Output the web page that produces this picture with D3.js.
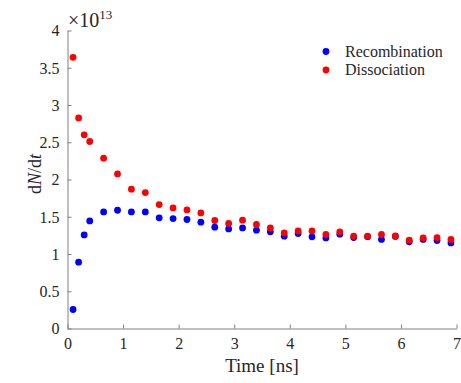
<!DOCTYPE html>
<html>
<head>
<meta charset="utf-8">
<script src="https://cdn.jsdelivr.net/npm/d3@7"></script>
<style>
  body { margin: 0; background: #fff; }
  svg text { font-family: "Liberation Serif", "Times New Roman", serif; fill: #262626; }
</style>
</head>
<body>
<svg id="chart" width="461" height="383"></svg>
<script>
// time points [ns]
var times = [0.1, 0.2, 0.3, 0.4, 0.65, 0.9, 1.15, 1.4, 1.65, 1.9, 2.15, 2.4, 2.65, 2.9, 3.15,
	3.4, 3.65, 3.9, 4.15, 4.4, 4.65, 4.9, 5.15, 5.4, 5.65, 5.9, 6.15, 6.4, 6.65, 6.9];

// values in units of 1e13
var recombination = [0.255, 0.89, 1.256, 1.444, 1.565, 1.587, 1.565, 1.565, 1.485, 1.476, 1.463, 1.427, 1.36, 1.337, 1.35,
	1.32, 1.297, 1.239, 1.275, 1.23, 1.216, 1.266, 1.221, 1.232, 1.195, 1.236, 1.163, 1.195, 1.181, 1.149];
var dissociation = [3.64, 2.827, 2.599, 2.51, 2.286, 2.075, 1.87, 1.825, 1.664, 1.619, 1.592, 1.552, 1.45, 1.41, 1.454,
	1.396, 1.35, 1.283, 1.31, 1.31, 1.262, 1.297, 1.239, 1.239, 1.262, 1.243, 1.185, 1.216, 1.221, 1.195];

var xTicks = [0, 1, 2, 3, 4, 5, 6, 7];
var yTicks = [0, 0.5, 1, 1.5, 2, 2.5, 3, 3.5, 4];

var seriesNames = ["Recombination", "Dissociation"];
var seriesColors = ["#0000ff", "#ff0000"];

var FONT = '"Liberation Serif", "Times New Roman", serif';
var AXIS_COLOR = "#808080";

var svg = d3.select("#chart");

var x = d3.scaleLinear().domain([0, 7]).range([67.5, 456.5]);
var y = d3.scaleLinear().domain([0, 4]).range([328.5, 30.5]);

var fmt = function(d) { return String(d); };

// x axis
var xAxis = svg.append("g")
	.attr("transform", "translate(0," + y(0) + ")")
	.call(d3.axisBottom(x).tickValues(xTicks).tickFormat(fmt).tickSizeInner(-4).tickSizeOuter(0).tickPadding(8));

// y axis
var yAxis = svg.append("g")
	.attr("transform", "translate(" + x(0) + ",0)")
	.call(d3.axisLeft(y).tickValues(yTicks).tickFormat(fmt).tickSizeInner(-4).tickSizeOuter(0).tickPadding(8));

[xAxis, yAxis].forEach(function(a) {
	a.attr("font-family", FONT).attr("font-size", 16);
	a.select(".domain").attr("stroke", AXIS_COLOR);
	a.selectAll(".tick line").attr("stroke", AXIS_COLOR);
	a.selectAll(".tick text").attr("fill", "#262626");
});
xAxis.selectAll(".tick text").attr("dy", "0.78em");
yAxis.selectAll(".tick text").attr("dy", "0.34em");

// exponent label
var expo = svg.append("text")
	.attr("x", 68)
	.attr("y", 27)
	.style("font-size", "20px");
expo.append("tspan").text("\u00d710");
expo.append("tspan").attr("dy", -8).style("font-size", "13px").text("13");

// axis labels
svg.append("text")
	.attr("x", (x(0) + x(7)) / 2)
	.attr("y", 372)
	.attr("text-anchor", "middle")
	.style("font-size", "19px")
	.text("Time [ns]");

var yl = svg.append("text")
	.attr("transform", "translate(41,174) rotate(-90)")
	.attr("text-anchor", "middle")
	.style("font-size", "18px");
yl.append("tspan").text("d");
yl.append("tspan").style("font-style", "italic").text("N");
yl.append("tspan").text("/d");
yl.append("tspan").style("font-style", "italic").text("t");

// points
var series = [recombination, dissociation];
series.forEach(function(vals, si) {
	svg.append("g").selectAll("circle")
		.data(vals)
		.enter().append("circle")
		.attr("cx", function(d, i) { return x(times[i]); })
		.attr("cy", function(d) { return y(d); })
		.attr("r", 3.4)
		.attr("fill", seriesColors[si]);
});

// legend
var legend = svg.append("g").attr("transform", "translate(326,51.5)");
seriesNames.forEach(function(name, i) {
	var row = legend.append("g").attr("transform", "translate(0," + (i * 18.5) + ")");
	row.append("circle").attr("r", 3.4).attr("fill", seriesColors[i]);
	row.append("text")
		.attr("x", 19)
		.attr("dy", "0.33em")
		.style("font-size", "16px")
		.text(name);
});
</script>
</body>
</html>
